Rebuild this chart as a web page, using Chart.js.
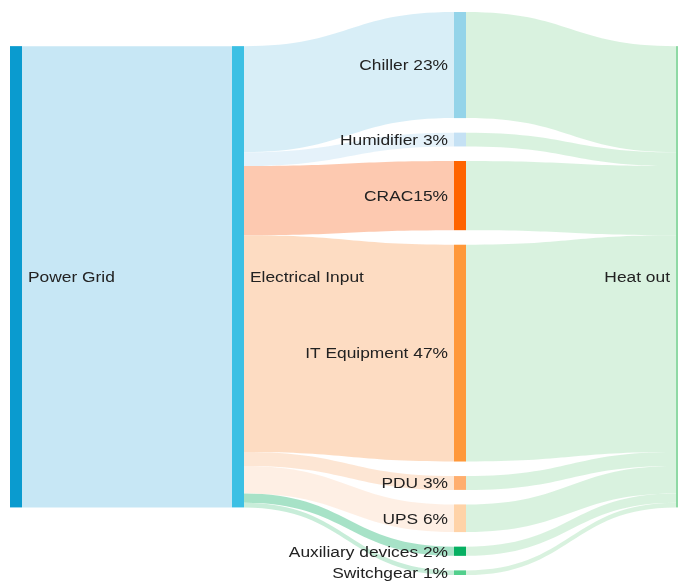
<!DOCTYPE html>
<html>
<head>
<meta charset="utf-8">
<script src="https://cdn.jsdelivr.net/npm/chart.js@4/dist/chart.umd.min.js"></script>
<style>
  body { margin: 0; background: #fff; }
  canvas { display: block; }
</style>
</head>
<body>
<canvas id="sankey" width="678" height="582"></canvas>
<script>
// Noeuds du diagramme
const nodeLabels = ["Power Grid", "Electrical Input", "Chiller 23%", "Humidifier 3%", "CRAC15%",
  "IT Equipment 47%", "PDU 3%", "UPS 6%", "Auxiliary devices 2%", "Switchgear 1%", "Heat out"];
const nodeColumns = [0, 1, 2, 2, 2, 2, 2, 2, 2, 2, 3];

// Liens (source -> cible, valeur en %)
const linkSources = [0, 1, 1, 1, 1, 1, 1, 1, 1, 2, 3, 4, 5, 6, 7, 8, 9];
const linkTargets = [1, 2, 3, 4, 5, 6, 7, 8, 9, 10, 10, 10, 10, 10, 10, 10, 10];
const linkValues = [100, 23, 3, 15, 47, 3, 6, 2, 1, 23, 3, 15, 47, 3, 6, 2, 1];

// Couleurs
const nodeColors = ["#0a9bcf", "#3cc0e4", "#94d4e9", "#c5e1f4", "#ff6400", "#ff983a",
  "#ffae6e", "#ffd3a8", "#06b062", "#52cf8c", "#8ed9a4"];
const linkColors = ["#c2e5f4", "#d5edf6", "#e3f1fa", "#fdc4a9", "#fdd9bd", "#fde4d0",
  "#feeee2", "#9fe0c2", "#c3ecd6",
  "#d6f1dc", "#d6f1dc", "#d6f1dc", "#d6f1dc", "#d6f1dc", "#d6f1dc", "#d6f1dc", "#d6f1dc"];

const nodeGap = 3.15;      // écart entre noeuds (en unités de valeur)
const loneNodeTop = 7.4;   // position des colonnes à un seul noeud
const nodeWidth = 12;

// Calcul du placement
function layoutSankey() {
  const inSum = nodeLabels.map(() => 0);
  const outSum = nodeLabels.map(() => 0);
  linkValues.forEach((v, i) => {
    outSum[linkSources[i]] += v;
    inSum[linkTargets[i]] += v;
  });
  const size = nodeLabels.map((_, i) => Math.max(inSum[i], outSum[i]));
  const top = [];
  const columns = {};
  nodeColumns.forEach((c, i) => (columns[c] = columns[c] || []).push(i));
  Object.values(columns).forEach(ids => {
    let y = ids.length > 1 ? 0 : loneNodeTop;
    ids.forEach(id => {
      top[id] = y;
      y += size[id] + nodeGap;
    });
  });
  return { size, top };
}

const sankeyPlugin = {
  id: "sankey",
  afterDatasetsDraw(chart) {
    const { ctx, scales: { x, y } } = chart;
    const { size, top } = layoutSankey();
    const outOff = nodeLabels.map(() => 0);
    const inOff = nodeLabels.map(() => 0);

    ctx.save();
    // flux
    linkValues.forEach((v, i) => {
      const s = linkSources[i], t = linkTargets[i];
      const x0 = x.getPixelForValue(nodeColumns[s]) + nodeWidth;
      const x1 = x.getPixelForValue(nodeColumns[t]);
      const ys0 = y.getPixelForValue(top[s] + outOff[s]);
      const ys1 = y.getPixelForValue(top[s] + outOff[s] + v);
      const yt0 = y.getPixelForValue(top[t] + inOff[t]);
      const yt1 = y.getPixelForValue(top[t] + inOff[t] + v);
      outOff[s] += v;
      inOff[t] += v;
      const xm = (x0 + x1) / 2;
      ctx.beginPath();
      ctx.moveTo(x0, ys0);
      ctx.bezierCurveTo(xm, ys0, xm, yt0, x1, yt0);
      ctx.lineTo(x1, yt1);
      ctx.bezierCurveTo(xm, yt1, xm, ys1, x0, ys1);
      ctx.closePath();
      ctx.globalAlpha = 0.92;
      ctx.fillStyle = linkColors[i];
      ctx.fill();
    });
    ctx.globalAlpha = 1;

    // noeuds
    nodeLabels.forEach((_, i) => {
      const px = x.getPixelForValue(nodeColumns[i]);
      const py0 = y.getPixelForValue(top[i]);
      const py1 = y.getPixelForValue(top[i] + size[i]);
      ctx.fillStyle = nodeColors[i];
      ctx.fillRect(px, py0, nodeWidth, py1 - py0);
    });

    // étiquettes
    ctx.fillStyle = "#222";
    ctx.font = '15.5px "Liberation Sans", Arial, sans-serif';
    ctx.textBaseline = "middle";
    const stretch = 1.12;
    const half = (x.min + x.max) / 2;
    nodeLabels.forEach((label, i) => {
      const px = x.getPixelForValue(nodeColumns[i]);
      const py = y.getPixelForValue(top[i] + size[i] / 2);
      const right = nodeColumns[i] < half;
      ctx.save();
      ctx.translate(right ? px + nodeWidth + 6 : px - 6, py + 1);
      ctx.scale(stretch, 1);
      ctx.textAlign = right ? "left" : "right";
      ctx.fillText(label, 0, 0);
      ctx.restore();
    });
    ctx.restore();
  }
};

window.addEventListener("DOMContentLoaded", () => {
  const ctx = document.getElementById("sankey").getContext("2d");
  new Chart(ctx, {
    type: "scatter",
    data: { datasets: [{ data: [] }] },
    options: {
      responsive: false,
      animation: false,
      layout: { padding: { left: 10, right: 2, top: 12, bottom: 7 } },
      scales: {
        x: { type: "linear", min: 0, max: 3, display: false },
        y: { type: "linear", min: 0, max: 100 + 7 * nodeGap, reverse: true, display: false }
      },
      plugins: { legend: { display: false }, tooltip: { enabled: false } }
    },
    plugins: [sankeyPlugin]
  });
});
</script>
</body>
</html>
